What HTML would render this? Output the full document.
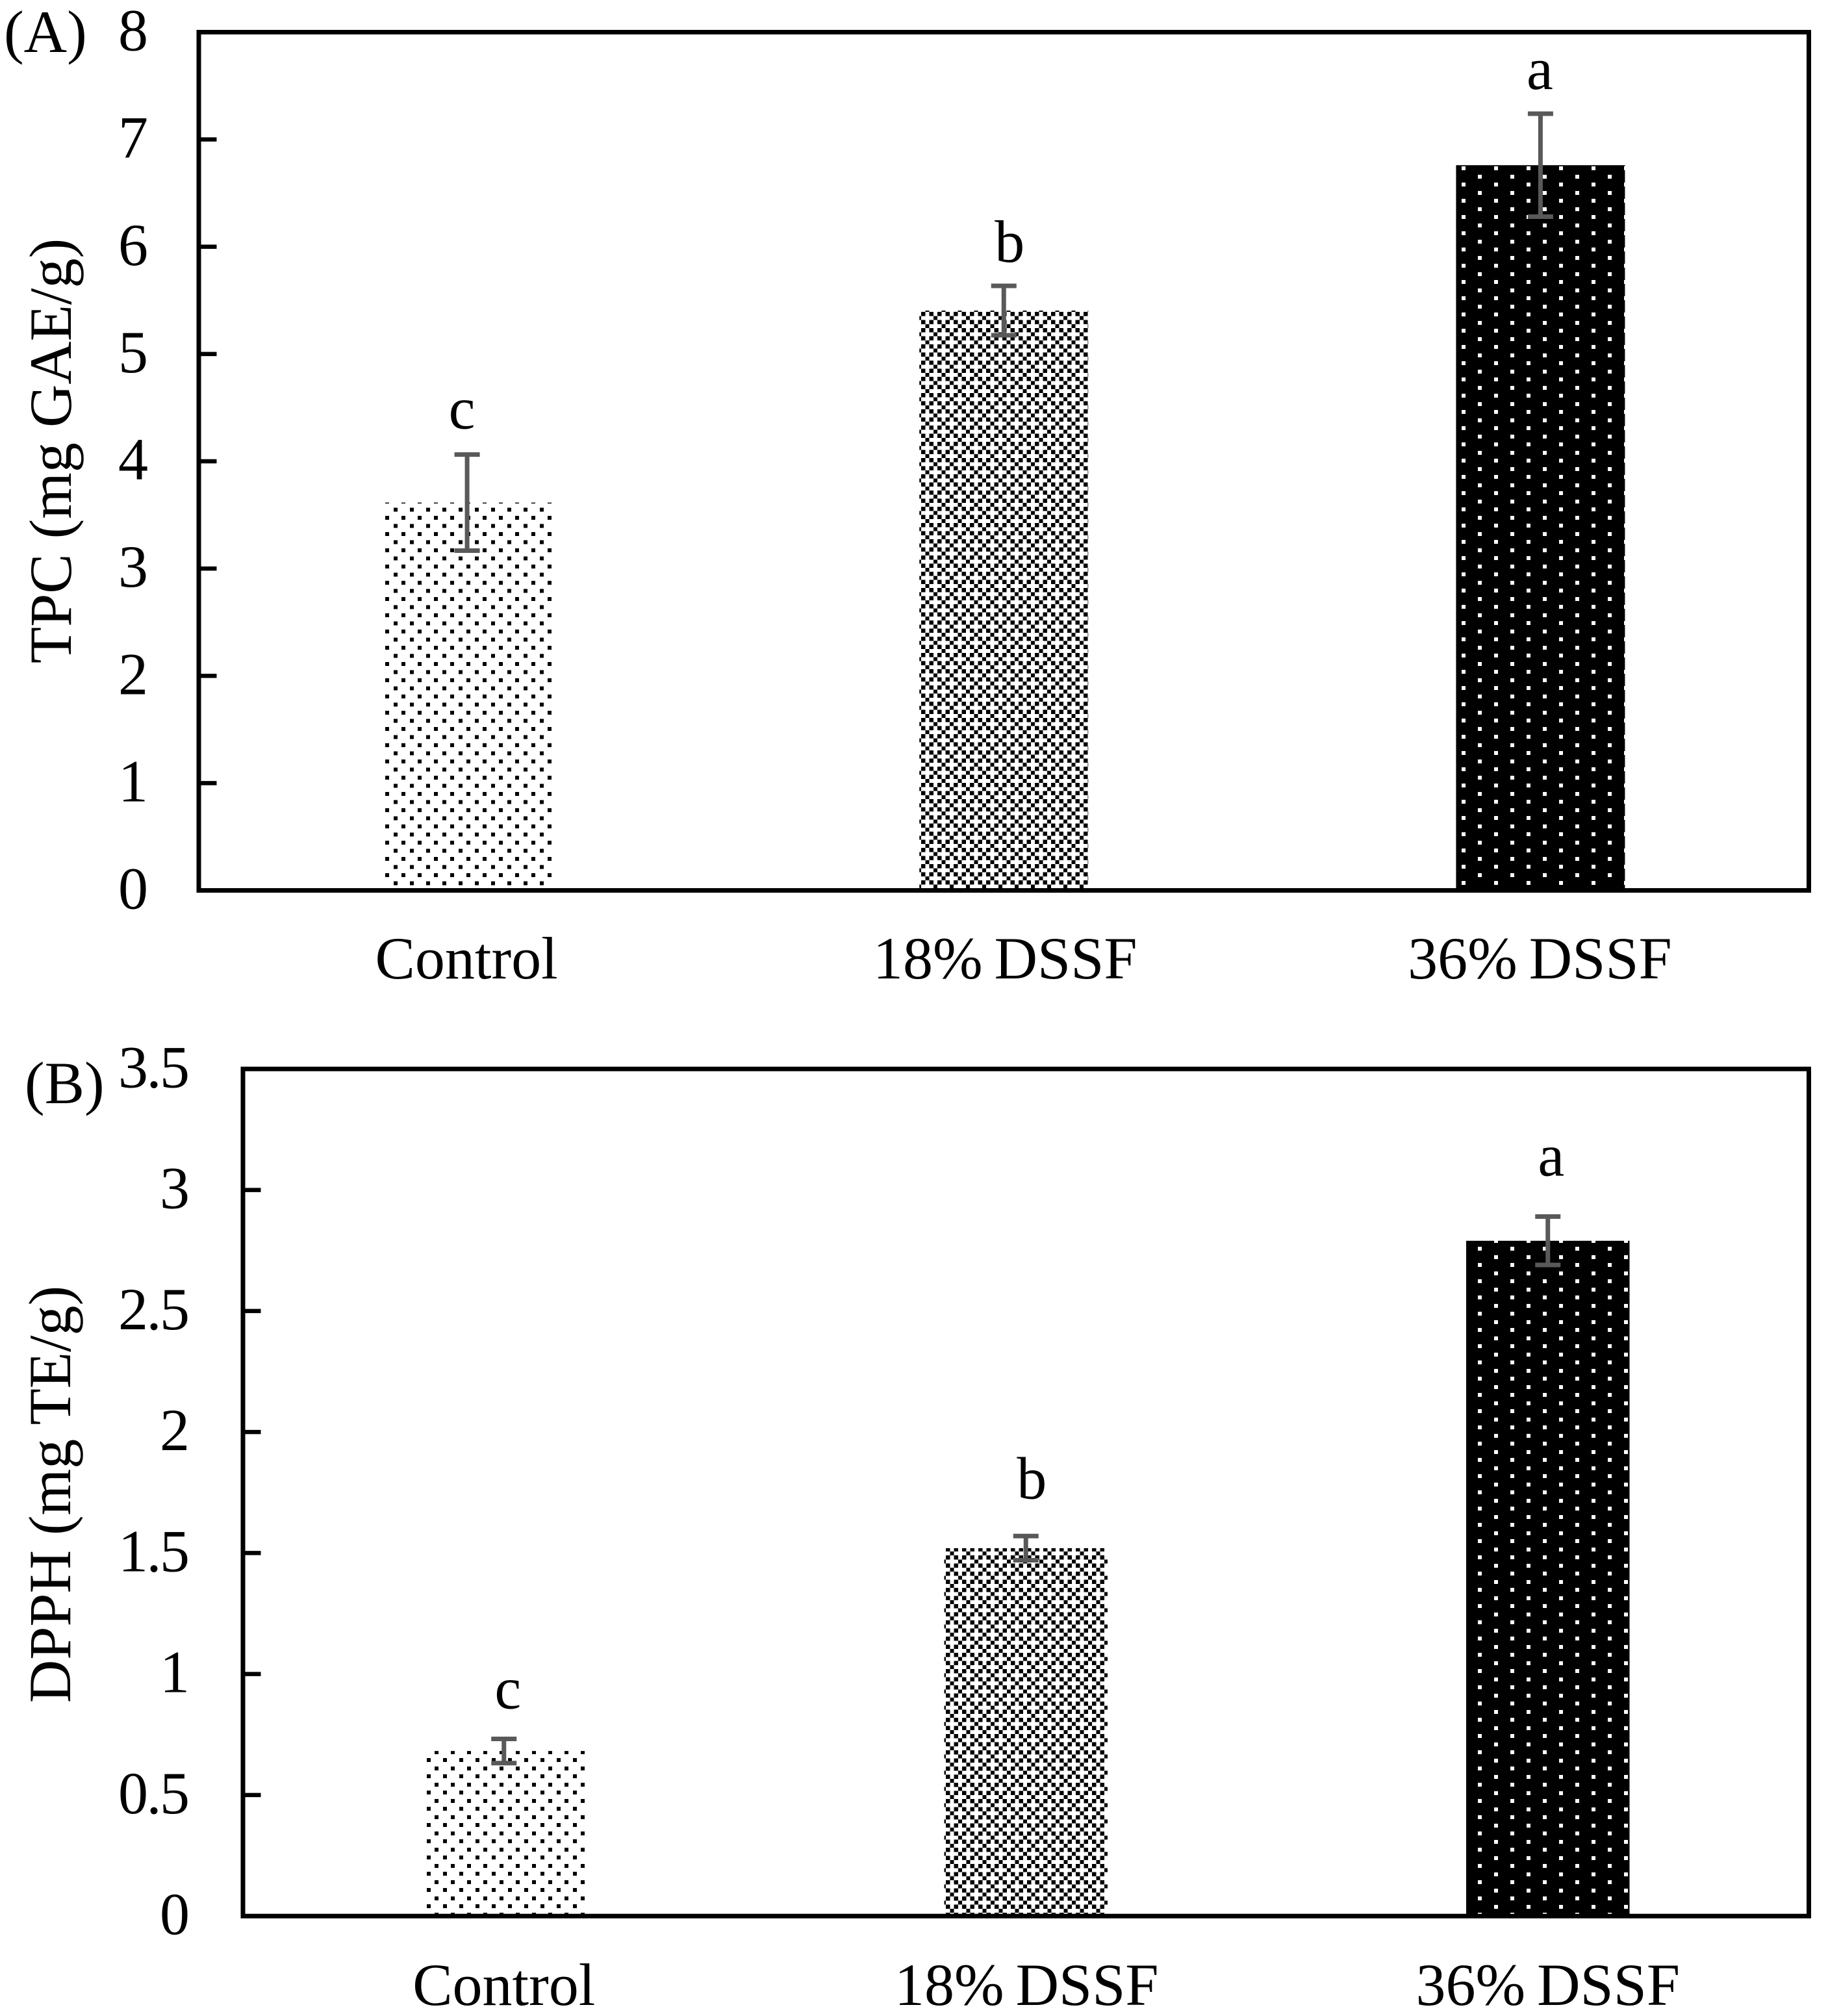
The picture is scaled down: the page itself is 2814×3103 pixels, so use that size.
<!DOCTYPE html>
<html lang="en">
<head>
<meta charset="utf-8">
<title>TPC and DPPH bar charts</title>
<style>
  html, body { margin: 0; padding: 0; background: #fff; }
  svg { display: block; }
  text { font-family: "Liberation Serif", serif; font-size: 92px; fill: #000; }
</style>
</head>
<body>
<svg id="figure" xmlns="http://www.w3.org/2000/svg" width="2814" height="3103" viewBox="0 0 2814 3103">
  <defs>
    <pattern id="a-sparse" patternUnits="userSpaceOnUse" x="593" y="794" width="25" height="25">
      <rect x="0" y="0" width="6" height="6" fill="#000" shape-rendering="crispEdges"/>
      <rect x="13" y="12.5" width="6" height="6" fill="#000" shape-rendering="crispEdges"/>
    </pattern>
    <pattern id="a-check" patternUnits="userSpaceOnUse" x="1418" y="480" width="25" height="25">
      <rect x="0" y="0" width="6.25" height="6.25" shape-rendering="crispEdges"/>
      <rect x="12.5" y="0" width="6.25" height="6.25" shape-rendering="crispEdges"/>
      <rect x="18.75" y="6.25" width="6.25" height="6.25" shape-rendering="crispEdges"/>
      <rect x="0" y="12.5" width="6.25" height="6.25" shape-rendering="crispEdges"/>
      <rect x="12.5" y="12.5" width="6.25" height="6.25" shape-rendering="crispEdges"/>
      <rect x="6.25" y="18.75" width="6.25" height="6.25" shape-rendering="crispEdges"/>
    </pattern>
    <pattern id="a-dark" patternUnits="userSpaceOnUse" x="2250" y="256" width="50" height="25">
      <rect x="0" y="0" width="50" height="25" fill="#000"/>
      <rect x="0" y="0" width="6" height="6" fill="#fff" shape-rendering="crispEdges"/>
      <rect x="25" y="13" width="6" height="6" fill="#fff" shape-rendering="crispEdges"/>
    </pattern>
    <pattern id="b-sparse" patternUnits="userSpaceOnUse" x="657" y="2706" width="25" height="25">
      <rect x="0" y="0" width="6" height="6" fill="#000" shape-rendering="crispEdges"/>
      <rect x="12" y="13" width="6" height="6" fill="#000" shape-rendering="crispEdges"/>
    </pattern>
    <pattern id="b-check" patternUnits="userSpaceOnUse" x="1456" y="2394" width="25" height="25">
      <rect x="0" y="0" width="6.25" height="6.25" shape-rendering="crispEdges"/>
      <rect x="12.5" y="0" width="6.25" height="6.25" shape-rendering="crispEdges"/>
      <rect x="18.75" y="6.25" width="6.25" height="6.25" shape-rendering="crispEdges"/>
      <rect x="0" y="12.5" width="6.25" height="6.25" shape-rendering="crispEdges"/>
      <rect x="12.5" y="12.5" width="6.25" height="6.25" shape-rendering="crispEdges"/>
      <rect x="6.25" y="18.75" width="6.25" height="6.25" shape-rendering="crispEdges"/>
    </pattern>
    <pattern id="b-dark" patternUnits="userSpaceOnUse" x="2275" y="1919" width="50" height="25">
      <rect x="0" y="0" width="50" height="25" fill="#000"/>
      <rect x="0" y="0" width="6" height="6" fill="#fff" shape-rendering="crispEdges"/>
      <rect x="25" y="13" width="6" height="6" fill="#fff" shape-rendering="crispEdges"/>
    </pattern>
  </defs>
</svg>
<script>
const categories = ["Control", "18% DSSF", "36% DSSF"];
const significanceLetters = ["c", "b", "a"];

const tpcValues = [3.615, 5.405, 6.76];
const tpcErrors = [0.448, 0.23, 0.48];
const tpcTicks = [0, 1, 2, 3, 4, 5, 6, 7, 8];
const tpcTickLabels = ["0", "1", "2", "3", "4", "5", "6", "7", "8"];

const dpphValues = [0.682, 1.52, 2.79];
const dpphErrors = [0.05, 0.05, 0.1];
const dpphTicks = [0, 0.5, 1, 1.5, 2, 2.5, 3, 3.5];
const dpphTickLabels = ["0", "0.5", "1", "1.5", "2", "2.5", "3", "3.5"];

const svgNS = "http://www.w3.org/2000/svg";
const figure = document.getElementById("figure");

function make(tag, parent) {
  const node = document.createElementNS(svgNS, tag);
  parent.appendChild(node);
  return node;
}
function set(node, attrs) {
  Object.keys(attrs).forEach(function (k) { node.setAttribute(k, attrs[k]); });
  return node;
}

function drawPanel(p) {
  const group = make("g", figure);
  
  

  const yScale = function (v) { return p.bottom - (v / p.yMax) * (p.bottom - p.top); };
  const band = (p.right - p.left) / p.categories.length;
  const xScale = function (i) { return p.left + band * (i + 0.5); };
  const barWidth = band * p.barRatio;

  // bars
  p.values.forEach(function (v, i) {
    const bar = make("rect", group);
    set(bar, { x: xScale(i) - barWidth / 2, y: yScale(v), width: barWidth, height: p.bottom - yScale(v), fill: "url(#" + p.fills[i] + ")" });
    
    
  });

  // plot frame
  const frame = make("rect", group);
  set(frame, { x: p.left, y: p.top, width: p.right - p.left, height: p.bottom - p.top, fill: "none", stroke: "#000", "stroke-width": 7 });
  
  

  // y ticks and labels
  p.ticks.forEach(function (t, i) {
    const y = yScale(t);
    if (t > 0 && t < p.yMax) {
      const tick = make("line", group);
      set(tick, { x1: p.left, x2: p.left + 27.5, y1: y, y2: y, stroke: "#000", "stroke-width": 6.5 });
      
      
    }
    const label = make("text", group);
    const decimal = p.tickLabels[i].indexOf(".") !== -1;
    set(label, { x: p.tickLabelRight - (decimal ? 2.5 : 0), y: y + 28, "text-anchor": "end" });
    if (decimal) { label.style.letterSpacing = "-2.5px"; }
    label.textContent = p.tickLabels[i];
    
    
  });

  // error bars
  p.values.forEach(function (v, i) {
    const cx = xScale(i);
    const hi = yScale(v + p.errors[i]);
    const lo = yScale(v - p.errors[i]);
    const err = make("path", group);
    set(err, {
      d: "M" + (cx - 19.5) + " " + hi + "H" + (cx + 19.5) + "M" + cx + " " + hi + "V" + lo + "M" + (cx - 19.5) + " " + lo + "H" + (cx + 19.5),
      fill: "none", stroke: "#595959", "stroke-width": 7
    });
    
    
  });

  // significance letters
  significanceLetters.forEach(function (s, i) {
    const letter = make("text", group);
    set(letter, { x: xScale(i) + p.letterDx[i], y: yScale(p.values[i] + p.errors[i]) + p.letterDy[i], "text-anchor": "middle" });
    letter.textContent = s;
    
    
  });

  // category labels
  p.categories.forEach(function (c, i) {
    const label = make("text", group);
    set(label, { x: xScale(i) + p.catDx[i], y: p.catY, "text-anchor": "middle" });
    label.style.wordSpacing = "-5px";
    label.textContent = c;
    
    
  });

  // axis title
  const title = make("text", group);
  set(title, { transform: "translate(" + p.titleX + " " + p.titleY + ") rotate(-90)", "text-anchor": "middle" });
  title.textContent = p.title;
  
  

  // panel tag
  const tag = make("text", group);
  set(tag, { x: p.tagX, y: p.tagY });
  tag.textContent = p.tag;
  
  
}

drawPanel({
  key: "tpc", left: 306, right: 2784.5, top: 49.5, bottom: 1370.5, yMax: 8, barRatio: 0.3147,
  categories: categories, values: tpcValues, errors: tpcErrors, ticks: tpcTicks, tickLabels: tpcTickLabels,
  fills: ["a-sparse", "a-check", "a-dark"],
  tickLabelRight: 228, catY: 1506, catDx: [-1, 2, -1],
  letterDx: [-8, 9, -1], letterDy: [-40, -37, -38],
  title: "TPC (mg GAE/g)", titleX: 109, titleY: 694,
  tag: "(A)", tagX: 6, tagY: 80
});

drawPanel({
  key: "dpph", left: 374, right: 2784.5, top: 1645.3, bottom: 2949.2, yMax: 3.5, barRatio: 0.313,
  categories: categories, values: dpphValues, errors: dpphErrors, ticks: dpphTicks, tickLabels: dpphTickLabels,
  fills: ["b-sparse", "b-check", "b-dark"],
  tickLabelRight: 292, catY: 3086, catDx: [0, 1, 0],
  letterDx: [6, 9, 5], letterDy: [-47, -58, -63],
  title: "DPPH (mg TE/g)", titleX: 108, titleY: 2300,
  tag: "(B)", tagX: 38, tagY: 1698
});
</script>
</body>
</html>
